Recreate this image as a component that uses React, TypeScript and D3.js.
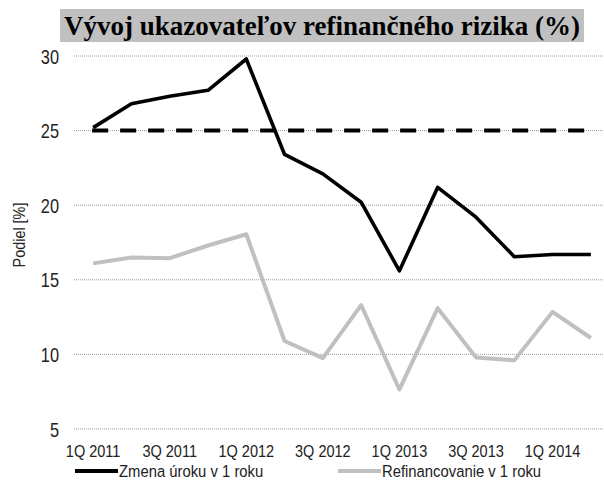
import React, {useEffect, useRef} from 'react';
import * as d3 from 'd3';

// quarters on the x axis
const quarters: string[] = [
  '1Q 2011', '2Q 2011', '3Q 2011', '4Q 2011',
  '1Q 2012', '2Q 2012', '3Q 2012', '4Q 2012',
  '1Q 2013', '2Q 2013', '3Q 2013', '4Q 2013',
  '1Q 2014', '2Q 2014',
];

// Zmena úroku v 1 roku
const zmenaUroku: number[] = [25.2, 26.8, 27.3, 27.7, 29.8, 23.4, 22.1, 20.2, 15.6, 21.2, 19.2, 16.55, 16.7, 16.7];
// Refinancovanie v 1 roku
const refinancovanie: number[] = [16.1, 16.5, 16.45, 17.3, 18.05, 10.9, 9.75, 13.3, 7.65, 13.1, 9.8, 9.6, 12.85, 11.1];
// limit line
const limit: number = 25;

const yTicks: number[] = [5, 10, 15, 20, 25, 30];
const xLabels: string[] = ['1Q 2011', '3Q 2011', '1Q 2012', '3Q 2012', '1Q 2013', '3Q 2013', '1Q 2014'];

const App = () => {
  const ref = useRef<SVGSVGElement>(null);

  useEffect(() => {
    const svg = d3.select(ref.current);
    svg.selectAll('*').remove();

    // no Arial Narrow here, so squeeze Liberation Sans a bit
    const font = "'Liberation Sans', Arial, sans-serif";
    const left = 74, right = 610, top = 56, bottom = 429;

    const x = d3.scaleBand<string>().domain(quarters).range([left, right]);
    const cx = (q: string) => (x(q) as number) + x.bandwidth() / 2;
    const y = d3.scaleLinear().domain([5, 30]).range([bottom, top]);

    // title with grey box
    svg.append('rect')
      .attr('x', 60).attr('y', 9).attr('width', 524).attr('height', 33)
      .attr('fill', '#c0c0c0');
    svg.append('text')
      .attr('x', 322).attr('y', 35)
      .attr('text-anchor', 'middle')
      .attr('font-family', "'Liberation Serif', 'Times New Roman', serif")
      .attr('font-weight', 'bold')
      .attr('font-size', 27)
      .text('Vývoj ukazovateľov refinančného rizika (%)');

    // gridlines
    svg.append('g').selectAll('line')
      .data(yTicks).enter().append('line')
      .attr('x1', left).attr('x2', right)
      .attr('y1', d => y(d)).attr('y2', d => y(d))
      .attr('stroke', '#9a9a9a')
      .attr('stroke-width', 1)
      .attr('stroke-dasharray', '1,1');

    // y ticks
    svg.append('g').selectAll('text')
      .data(yTicks).enter().append('text')
      .attr('transform', d => `translate(59,${y(d) + 7.5}) scale(0.82,1)`)
      .attr('text-anchor', 'end')
      .attr('font-family', font).attr('font-size', 20)
      .attr('fill', '#222')
      .text(d => d);

    svg.append('text')
      .attr('transform', `translate(25,235) rotate(-90) scale(0.9,1)`)
      .attr('text-anchor', 'middle')
      .attr('font-family', font).attr('font-size', 16)
      .attr('fill', '#222')
      .text('Podiel [%]');

    // x labels
    svg.append('g').selectAll('text')
      .data(xLabels).enter().append('text')
      .attr('transform', d => `translate(${cx(d)},457) scale(0.88,1)`)
      .attr('text-anchor', 'middle')
      .attr('font-family', font).attr('font-size', 16.5)
      .attr('fill', '#222')
      .text(d => d);

    // dashed limit
    svg.append('line')
      .attr('x1', cx(quarters[0]) - 1).attr('x2', cx(quarters[quarters.length - 1]))
      .attr('y1', y(limit)).attr('y2', y(limit))
      .attr('stroke', '#000').attr('stroke-width', 4)
      .attr('stroke-dasharray', '16,12');

    const line = d3.line<number>()
      .x((_, i) => cx(quarters[i]))
      .y(d => y(d));

    svg.append('path').datum(refinancovanie)
      .attr('d', line).attr('fill', 'none')
      .attr('stroke', '#c0c0c0').attr('stroke-width', 4)
      .attr('stroke-linejoin', 'round');

    svg.append('path').datum(zmenaUroku)
      .attr('d', line).attr('fill', 'none')
      .attr('stroke', '#000').attr('stroke-width', 3.6)
      .attr('stroke-linejoin', 'round');

    // legend
    const legend = [
      {label: 'Zmena úroku v 1 roku', color: '#000', x: 75},
      {label: 'Refinancovanie v 1 roku', color: '#c0c0c0', x: 338},
    ];
    const lg = svg.append('g').selectAll('g')
      .data(legend).enter().append('g')
      .attr('transform', d => `translate(${d.x},471)`);
    lg.append('line')
      .attr('x1', 0).attr('x2', 43)
      .attr('stroke', d => d.color).attr('stroke-width', 4);
    lg.append('text')
      .attr('transform', 'translate(44,6) scale(0.91,1)')
      .attr('font-family', font).attr('font-size', 16.3)
      .attr('fill', '#222')
      .text(d => d.label);
  }, []);

  return (
    <svg ref={ref} width={604} height={488}
      style={{position: 'absolute', left: 0, top: 0, background: '#fff'}} />
  );
};

export default App;
